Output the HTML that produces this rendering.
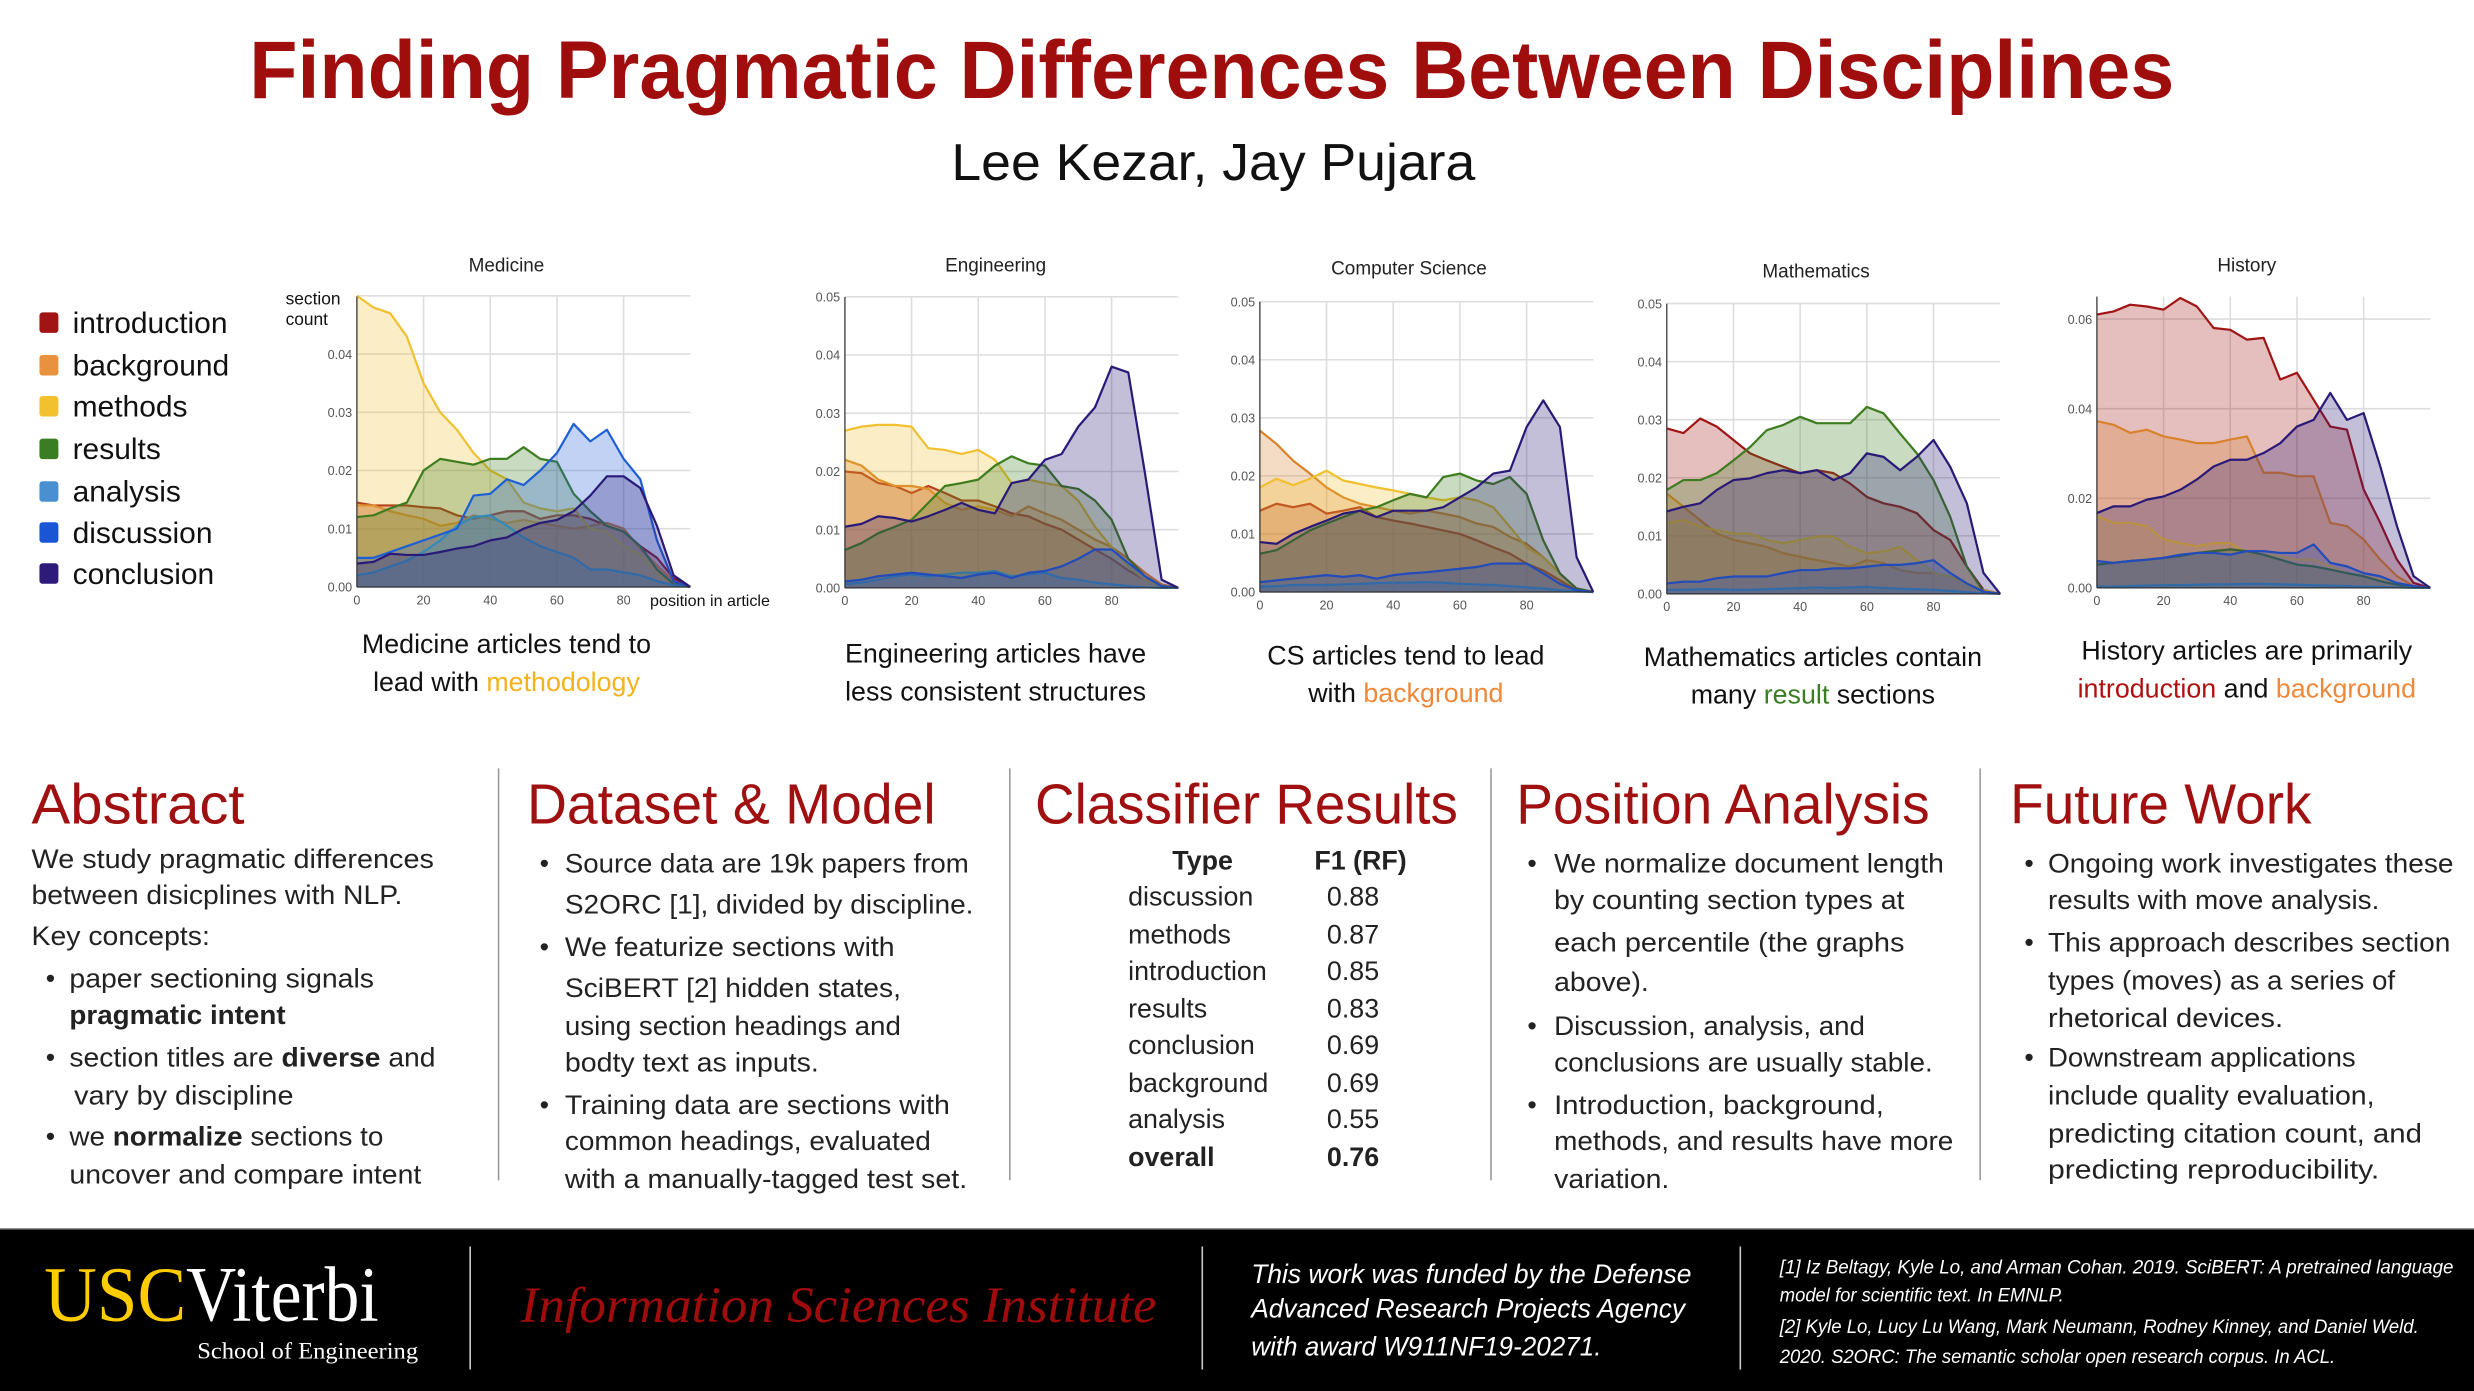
<!DOCTYPE html>
<html><head><meta charset="utf-8"><style>
html,body{margin:0;padding:0;background:#fff;}
svg{display:block;}
text{font-family:"Liberation Sans",sans-serif;}
.body{font-family:"Liberation Sans Narrow","Liberation Sans",sans-serif;font-size:17px;fill:#222;}
.hdr{font-size:36px;fill:#a01010;}
.tick{font-size:8px;fill:#555;font-family:"Liberation Sans Narrow","Liberation Sans",sans-serif;}
.cap{font-size:17px;fill:#111;}
.serif{font-family:"Liberation Serif",serif;}
.narrow{font-family:"Liberation Sans Narrow","Liberation Sans",sans-serif;}
</style></head><body>
<svg id="poster" width="2474" height="1391" viewBox="0 0 1568 881.6" xmlns="http://www.w3.org/2000/svg">
<rect x="0" y="0" width="1568" height="882" fill="#fff"/>
<text x="158" y="62" font-size="52" font-weight="bold" fill="#a00d0d" textLength="1220" lengthAdjust="spacingAndGlyphs">Finding Pragmatic Differences Between Disciplines</text>
<text x="603" y="114" font-size="33" fill="#111" textLength="332" lengthAdjust="spacingAndGlyphs">Lee Kezar, Jay Pujara</text>

<g id="legend">
<rect x="25" y="198" width="12" height="13" rx="2" fill="#a11414"/><text x="46" y="211" font-size="19" fill="#111">introduction</text>
<rect x="25" y="225" width="12" height="13" rx="2" fill="#e8923f"/><text x="46" y="238" font-size="19" fill="#111">background</text>
<rect x="25" y="251" width="12" height="13" rx="2" fill="#f2c12e"/><text x="46" y="264" font-size="19" fill="#111">methods</text>
<rect x="25" y="278" width="12" height="13" rx="2" fill="#3a7d22"/><text x="46" y="291" font-size="19" fill="#111">results</text>
<rect x="25" y="305" width="12" height="13" rx="2" fill="#4a8fd0"/><text x="46" y="318" font-size="19" fill="#111">analysis</text>
<rect x="25" y="331" width="12" height="13" rx="2" fill="#1a55d6"/><text x="46" y="344" font-size="19" fill="#111">discussion</text>
<rect x="25" y="357" width="12" height="13" rx="2" fill="#2e1a78"/><text x="46" y="370" font-size="19" fill="#111">conclusion</text>
</g>

<g id="charts"></g>

<text x="181" y="193" font-size="11" fill="#111">section</text>
<text x="181" y="206" font-size="11" fill="#111">count</text>
<text x="412" y="384" font-size="10" fill="#111" textLength="76" lengthAdjust="spacingAndGlyphs">position in article</text>

<!-- captions -->
<text class="cap" x="321" y="414" text-anchor="middle">Medicine articles tend to</text>
<text class="cap" x="321" y="438" text-anchor="middle">lead with <tspan fill="#f2b31c">methodology</tspan></text>
<text class="cap" x="631" y="420" text-anchor="middle">Engineering articles have</text>
<text class="cap" x="631" y="444" text-anchor="middle">less consistent structures</text>
<text class="cap" x="891" y="421" text-anchor="middle">CS articles tend  to lead</text>
<text class="cap" x="891" y="445" text-anchor="middle">with <tspan fill="#f0883a">background</tspan></text>
<text class="cap" x="1149" y="422" text-anchor="middle">Mathematics articles contain</text>
<text class="cap" x="1149" y="446" text-anchor="middle">many <tspan fill="#3a7d22">result</tspan> sections</text>
<text class="cap" x="1424" y="418" text-anchor="middle">History articles are primarily</text>
<text class="cap" x="1424" y="442" text-anchor="middle"><tspan fill="#b01010">introduction</tspan> and <tspan fill="#f0883a">background</tspan></text>

<!-- dividers -->
<line x1="316" y1="487" x2="316" y2="748" stroke="#999" stroke-width="1"/>
<line x1="640" y1="487" x2="640" y2="748" stroke="#999" stroke-width="1"/>
<line x1="945" y1="487" x2="945" y2="748" stroke="#999" stroke-width="1"/>
<line x1="1255" y1="487" x2="1255" y2="748" stroke="#999" stroke-width="1"/>

<!-- Abstract -->
<text class="hdr" x="20" y="522" textLength="135" lengthAdjust="spacingAndGlyphs">Abstract</text>
<g class="body">
<text class="body" x="20" y="550" textLength="255" lengthAdjust="spacingAndGlyphs">We study pragmatic differences</text>
<text class="body" x="20" y="573" textLength="235" lengthAdjust="spacingAndGlyphs">between disicplines with NLP.</text>
<text class="body" x="20" y="599" textLength="113" lengthAdjust="spacingAndGlyphs">Key concepts:</text>
<text class="body" x="29" y="626">•</text><text class="body" x="44" y="626" textLength="193" lengthAdjust="spacingAndGlyphs">paper sectioning signals</text>
<text class="body" x="44" y="649" font-weight="bold" textLength="137" lengthAdjust="spacingAndGlyphs">pragmatic intent</text>
<text class="body" x="29" y="676">•</text><text class="body" x="44" y="676" textLength="232" lengthAdjust="spacingAndGlyphs">section titles are <tspan font-weight="bold">diverse</tspan> and</text>
<text class="body" x="47" y="700" textLength="139" lengthAdjust="spacingAndGlyphs">vary by discipline</text>
<text class="body" x="29" y="726">•</text><text class="body" x="44" y="726" textLength="199" lengthAdjust="spacingAndGlyphs">we <tspan font-weight="bold">normalize</tspan> sections to</text>
<text class="body" x="44" y="750" textLength="223" lengthAdjust="spacingAndGlyphs">uncover and compare intent</text>
</g>

<!-- Dataset -->
<text class="hdr" x="334" y="522" textLength="259" lengthAdjust="spacingAndGlyphs">Dataset &amp; Model</text>
<g>
<text class="body" x="342" y="553">•</text><text class="body" x="358" y="553" textLength="256" lengthAdjust="spacingAndGlyphs">Source data are 19k papers from</text>
<text class="body" x="358" y="579" textLength="259" lengthAdjust="spacingAndGlyphs">S2ORC [1], divided by discipline.</text>
<text class="body" x="342" y="606">•</text><text class="body" x="358" y="606" textLength="209" lengthAdjust="spacingAndGlyphs">We featurize sections with</text>
<text class="body" x="358" y="632" textLength="213" lengthAdjust="spacingAndGlyphs">SciBERT [2] hidden states,</text>
<text class="body" x="358" y="656" textLength="213" lengthAdjust="spacingAndGlyphs">using section headings and</text>
<text class="body" x="358" y="679" textLength="161" lengthAdjust="spacingAndGlyphs">bodty text as inputs.</text>
<text class="body" x="342" y="706">•</text><text class="body" x="358" y="706" textLength="244" lengthAdjust="spacingAndGlyphs">Training data are sections with</text>
<text class="body" x="358" y="729" textLength="232" lengthAdjust="spacingAndGlyphs">common headings, evaluated</text>
<text class="body" x="358" y="753" textLength="255" lengthAdjust="spacingAndGlyphs">with a manually-tagged test set.</text>
</g>

<!-- Classifier -->
<text class="hdr" x="656" y="522" textLength="268" lengthAdjust="spacingAndGlyphs">Classifier Results</text>
<g>
<text class="body" x="743" y="551" font-weight="bold">Type</text><text class="body" x="833" y="551" font-weight="bold">F1 (RF)</text>
<text class="body" x="715" y="574">discussion</text><text class="body" x="841" y="574">0.88</text>
<text class="body" x="715" y="598">methods</text><text class="body" x="841" y="598">0.87</text>
<text class="body" x="715" y="621">introduction</text><text class="body" x="841" y="621">0.85</text>
<text class="body" x="715" y="645">results</text><text class="body" x="841" y="645">0.83</text>
<text class="body" x="715" y="668">conclusion</text><text class="body" x="841" y="668">0.69</text>
<text class="body" x="715" y="692">background</text><text class="body" x="841" y="692">0.69</text>
<text class="body" x="715" y="715">analysis</text><text class="body" x="841" y="715">0.55</text>
<text class="body" x="715" y="739" font-weight="bold">overall</text><text class="body" x="841" y="739" font-weight="bold">0.76</text>
</g>

<!-- Position -->
<text class="hdr" x="961" y="522" textLength="262" lengthAdjust="spacingAndGlyphs">Position Analysis</text>
<g>
<text class="body" x="968" y="553">•</text><text class="body" x="985" y="553" textLength="247" lengthAdjust="spacingAndGlyphs">We normalize document length</text>
<text class="body" x="985" y="576" textLength="222" lengthAdjust="spacingAndGlyphs">by counting section types at</text>
<text class="body" x="985" y="603" textLength="222" lengthAdjust="spacingAndGlyphs">each percentile (the graphs</text>
<text class="body" x="985" y="628" textLength="60" lengthAdjust="spacingAndGlyphs">above).</text>
<text class="body" x="968" y="656">•</text><text class="body" x="985" y="656" textLength="197" lengthAdjust="spacingAndGlyphs">Discussion, analysis, and</text>
<text class="body" x="985" y="679" textLength="240" lengthAdjust="spacingAndGlyphs">conclusions are usually stable.</text>
<text class="body" x="968" y="706">•</text><text class="body" x="985" y="706" textLength="209" lengthAdjust="spacingAndGlyphs">Introduction, background,</text>
<text class="body" x="985" y="729" textLength="253" lengthAdjust="spacingAndGlyphs">methods, and results have more</text>
<text class="body" x="985" y="753" textLength="73" lengthAdjust="spacingAndGlyphs">variation.</text>
</g>

<!-- Future -->
<text class="hdr" x="1274" y="522" textLength="191" lengthAdjust="spacingAndGlyphs">Future Work</text>
<g>
<text class="body" x="1283" y="553">•</text><text class="body" x="1298" y="553" textLength="257" lengthAdjust="spacingAndGlyphs">Ongoing work investigates these</text>
<text class="body" x="1298" y="576" textLength="210" lengthAdjust="spacingAndGlyphs">results with move analysis.</text>
<text class="body" x="1283" y="603">•</text><text class="body" x="1298" y="603" textLength="255" lengthAdjust="spacingAndGlyphs">This approach describes section</text>
<text class="body" x="1298" y="627" textLength="220" lengthAdjust="spacingAndGlyphs">types (moves) as a series of</text>
<text class="body" x="1298" y="651" textLength="149" lengthAdjust="spacingAndGlyphs">rhetorical devices.</text>
<text class="body" x="1283" y="676">•</text><text class="body" x="1298" y="676" textLength="195" lengthAdjust="spacingAndGlyphs">Downstream applications</text>
<text class="body" x="1298" y="700" textLength="207" lengthAdjust="spacingAndGlyphs">include quality evaluation,</text>
<text class="body" x="1298" y="724" textLength="237" lengthAdjust="spacingAndGlyphs">predicting citation count, and</text>
<text class="body" x="1298" y="747" textLength="210" lengthAdjust="spacingAndGlyphs">predicting reproducibility.</text>
</g>

<!-- Footer -->
<rect x="0" y="779" width="1568" height="103" fill="#000"/>
<line x1="0" y1="779" x2="1568" y2="779" stroke="#555" stroke-width="1"/>
<text class="serif" x="28" y="837" font-size="50" fill="#ffcc00" textLength="90" lengthAdjust="spacingAndGlyphs">USC</text>
<text class="serif" x="118" y="837" font-size="50" fill="#fff" textLength="122" lengthAdjust="spacingAndGlyphs">Viterbi</text>
<text class="serif" x="125" y="861" font-size="15" fill="#fff" textLength="140" lengthAdjust="spacingAndGlyphs">School of Engineering</text>
<line x1="298" y1="790" x2="298" y2="868" stroke="#ccc" stroke-width="1"/>
<text class="serif" x="330" y="838" font-style="italic" font-size="32" fill="#a00c0c" textLength="403" lengthAdjust="spacingAndGlyphs">Information Sciences Institute</text>
<line x1="762" y1="790" x2="762" y2="868" stroke="#ccc" stroke-width="1"/>
<g font-style="italic" font-size="17" fill="#fff">
<text class="narrow" x="793" y="813" textLength="279" lengthAdjust="spacingAndGlyphs">This work was funded by the Defense</text>
<text class="narrow" x="793" y="835" textLength="275" lengthAdjust="spacingAndGlyphs">Advanced Research Projects Agency</text>
<text class="narrow" x="793" y="859" textLength="222" lengthAdjust="spacingAndGlyphs">with award W911NF19-20271.</text>
</g>
<line x1="1103" y1="790" x2="1103" y2="868" stroke="#ccc" stroke-width="1"/>
<g font-style="italic" font-size="12" fill="#fff">
<text class="narrow" x="1128" y="807" textLength="427" lengthAdjust="spacingAndGlyphs">[1] Iz Beltagy, Kyle Lo, and Arman Cohan. 2019. SciBERT: A pretrained language</text>
<text class="narrow" x="1128" y="825" textLength="180" lengthAdjust="spacingAndGlyphs">model for scientific text. In EMNLP.</text>
<text class="narrow" x="1128" y="845" textLength="405" lengthAdjust="spacingAndGlyphs">[2] Kyle Lo, Lucy Lu Wang, Mark Neumann, Rodney Kinney, and Daniel Weld.</text>
<text class="narrow" x="1128" y="864" textLength="352" lengthAdjust="spacingAndGlyphs">2020. S2ORC: The semantic scholar open research corpus. In ACL.</text>
</g>
</svg>
<script>
// ---- data ----
const categories = ["introduction","background","methods","results","analysis","discussion","conclusion"];
const positions = [0,5,10,15,20,25,30,35,40,45,50,55,60,65,70,75,80,85,90,95,100];
const xTicks = [0,20,40,60,80];
const chartTitles = ["Medicine","Engineering","Computer Science","Mathematics","History"];
const yTicksDefault = [0,0.01,0.02,0.03,0.04,0.05];
const yTicksMedicine = [0,0.01,0.02,0.03,0.04];
const yTicksHistory = [0,0.02,0.04,0.06];

const medIntro = [0.0145,0.014,0.014,0.014,0.0137,0.0135,0.0123,0.0117,0.0123,0.013,0.013,0.0117,0.0123,0.0123,0.0117,0.0105,0.0095,0.007,0.005,0.0015,0];
const medBack = [0.014,0.014,0.013,0.0123,0.0117,0.0105,0.011,0.0123,0.0117,0.011,0.0115,0.011,0.0105,0.010,0.0105,0.011,0.010,0.0066,0.0037,0.001,0];
const medMeth = [0.05,0.048,0.047,0.043,0.035,0.030,0.027,0.023,0.020,0.0185,0.0145,0.0135,0.013,0.0135,0.010,0.0095,0.007,0.0055,0.0025,0.0003,0];
const medRes = [0.012,0.0123,0.0135,0.0145,0.020,0.022,0.0215,0.021,0.022,0.022,0.024,0.022,0.0215,0.016,0.013,0.0105,0.0095,0.007,0.003,0.0005,0];
const medAna = [0.002,0.0025,0.0035,0.0045,0.006,0.008,0.0105,0.012,0.0123,0.0105,0.0085,0.007,0.006,0.005,0.003,0.003,0.0025,0.002,0.001,0.0003,0];
const medDisc = [0.005,0.005,0.006,0.007,0.008,0.009,0.010,0.0157,0.016,0.0185,0.0175,0.020,0.023,0.028,0.025,0.027,0.022,0.0185,0.008,0.001,0];
const medConc = [0.004,0.0043,0.0057,0.0055,0.0055,0.006,0.0066,0.007,0.008,0.0085,0.010,0.011,0.0115,0.013,0.0157,0.019,0.019,0.017,0.0105,0.002,0];

const engIntro = [0.020,0.0197,0.018,0.0175,0.0163,0.0175,0.0163,0.015,0.015,0.014,0.0128,0.0123,0.011,0.010,0.0083,0.0066,0.005,0.003,0.0014,0.0003,0];
const engBack = [0.022,0.021,0.0186,0.0175,0.0175,0.017,0.0146,0.0134,0.014,0.0134,0.0123,0.014,0.0128,0.0117,0.010,0.0083,0.007,0.005,0.0026,0.0006,0];
const engMeth = [0.027,0.0277,0.028,0.028,0.0277,0.024,0.0237,0.023,0.0237,0.022,0.018,0.0186,0.018,0.0175,0.015,0.0105,0.007,0.0037,0.0014,0.0003,0];
const engRes = [0.0065,0.0077,0.0094,0.0105,0.0117,0.0146,0.0175,0.018,0.0186,0.021,0.0226,0.0214,0.021,0.0175,0.017,0.015,0.0117,0.005,0.002,0.0003,0];
const engAna = [0.0006,0.0009,0.0014,0.002,0.0023,0.002,0.0023,0.0026,0.0026,0.0029,0.002,0.0023,0.0026,0.0017,0.0014,0.0009,0.0006,0.0003,0.0001,0,0];
const engDisc = [0.0011,0.0014,0.002,0.0023,0.0026,0.0023,0.002,0.0017,0.0023,0.0026,0.0017,0.0026,0.0029,0.0037,0.005,0.0066,0.0066,0.0043,0.002,0.0003,0];
const engConc = [0.0105,0.011,0.0123,0.012,0.0114,0.0123,0.0134,0.0146,0.0134,0.0128,0.018,0.0186,0.022,0.023,0.0277,0.031,0.038,0.037,0.0197,0.0014,0];

const csIntro = [0.014,0.0152,0.0146,0.0152,0.0135,0.014,0.0146,0.0129,0.0123,0.0118,0.0112,0.0106,0.010,0.0089,0.0077,0.0066,0.0049,0.0037,0.002,0.0003,0];
const csBack = [0.0278,0.0255,0.0226,0.0204,0.018,0.0163,0.0152,0.0146,0.014,0.0135,0.014,0.0135,0.0129,0.0118,0.0112,0.0095,0.0083,0.006,0.0032,0.0006,0];
const csMeth = [0.018,0.0195,0.0184,0.0195,0.0209,0.0192,0.0186,0.018,0.0175,0.0169,0.0163,0.0158,0.0163,0.0158,0.0146,0.0112,0.0077,0.006,0.0032,0.0006,0];
const csRes = [0.0066,0.0072,0.0089,0.0106,0.0118,0.0129,0.014,0.0146,0.0158,0.0169,0.0163,0.0198,0.0204,0.0192,0.0186,0.0198,0.0169,0.0089,0.0032,0.0006,0];
const csAna = [0.0009,0.001,0.0012,0.0012,0.0012,0.0013,0.0014,0.0015,0.0016,0.0016,0.0017,0.0016,0.0014,0.0013,0.0012,0.001,0.0008,0.0006,0.0003,0.0001,0];
const csDisc = [0.0017,0.002,0.0023,0.0026,0.0029,0.0026,0.0029,0.0023,0.0029,0.0032,0.0034,0.0037,0.004,0.0043,0.0049,0.0049,0.0049,0.0032,0.0014,0.0003,0];
const csConc = [0.0086,0.0083,0.010,0.0112,0.0123,0.0135,0.014,0.0129,0.014,0.014,0.014,0.0146,0.0163,0.018,0.0204,0.0209,0.0284,0.033,0.0284,0.006,0];

const mathIntro = [0.0285,0.0277,0.0302,0.0288,0.0265,0.0242,0.023,0.0219,0.0208,0.0213,0.0208,0.019,0.0167,0.0156,0.015,0.0139,0.011,0.0093,0.0047,0.0007,0];
const mathBack = [0.0173,0.015,0.0127,0.0104,0.0093,0.0087,0.0081,0.007,0.0064,0.0058,0.0053,0.0047,0.0058,0.0053,0.0041,0.0036,0.0036,0.003,0.0018,0.0004,0];
const mathMeth = [0.0122,0.0127,0.0116,0.011,0.0104,0.0104,0.0093,0.0087,0.0093,0.0099,0.0099,0.0081,0.007,0.0073,0.0081,0.0058,0.0036,0.003,0.0018,0.0007,0];
const mathRes = [0.0179,0.0196,0.0196,0.0208,0.023,0.0253,0.0282,0.0291,0.0305,0.0294,0.0294,0.0294,0.0322,0.0311,0.0276,0.0242,0.0196,0.0133,0.0047,0.0004,0];
const mathAna = [0.0007,0.0007,0.0008,0.0008,0.0007,0.0007,0.0008,0.0009,0.001,0.0011,0.001,0.0011,0.0012,0.001,0.0009,0.0008,0.0007,0.0005,0.0003,0.0001,0];
const mathDisc = [0.0018,0.0021,0.0021,0.0027,0.003,0.003,0.003,0.0036,0.0041,0.0041,0.0044,0.0044,0.0047,0.005,0.005,0.0053,0.0058,0.0036,0.0018,0.0004,0];
const mathConc = [0.0142,0.015,0.0156,0.0179,0.0196,0.0199,0.0208,0.0213,0.0208,0.0213,0.0196,0.0208,0.0242,0.0236,0.0213,0.0236,0.0265,0.0219,0.0156,0.0036,0];

const histIntro = [0.061,0.0617,0.0632,0.0628,0.0621,0.0647,0.0628,0.058,0.0576,0.0554,0.0558,0.0465,0.048,0.042,0.036,0.0353,0.022,0.0145,0.0063,0.0011,0];
const histBack = [0.0372,0.0364,0.0346,0.0353,0.0338,0.0331,0.0323,0.0323,0.0331,0.0338,0.0257,0.0257,0.0249,0.0249,0.0145,0.0138,0.0108,0.0063,0.0026,0.0004,0];
const histMeth = [0.016,0.0145,0.0145,0.0138,0.0108,0.010,0.0093,0.010,0.010,0.0078,0.0074,0.0071,0.0063,0.0063,0.0048,0.0033,0.0026,0.0019,0.0007,0.0001,0];
const histRes = [0.0052,0.0056,0.006,0.0063,0.0067,0.0071,0.0078,0.0082,0.0086,0.0082,0.0074,0.0063,0.0052,0.0048,0.0041,0.0033,0.0026,0.0015,0.0007,0.0001,0];
const histAna = [0.0003,0.0003,0.0004,0.0005,0.0006,0.0006,0.0007,0.0008,0.0008,0.0009,0.0009,0.0008,0.0007,0.0006,0.0005,0.0004,0.0003,0.0002,0.0001,0,0];
const histDisc = [0.006,0.0056,0.006,0.0063,0.0067,0.0074,0.0078,0.0078,0.0074,0.0082,0.0082,0.0078,0.0078,0.0097,0.0056,0.0048,0.0033,0.0026,0.0011,0.0004,0];
const histConc = [0.0167,0.0182,0.0182,0.0197,0.0204,0.0219,0.0242,0.0271,0.0286,0.0286,0.0301,0.0323,0.036,0.0375,0.0435,0.0375,0.039,0.0271,0.0138,0.0026,0];

// ---- styling / layout (not data) ----
const colors = ["#a11414","#d9822b","#f0c030","#3d7d1f","#3a9bb0","#1f5fd6","#2a1a78"];
const NS = "http://www.w3.org/2000/svg";
const chartLayouts = [
  {x0:226.2,y0:372,top:188,yMax:0.05,unitY:3690,titleX:321,titleY:172,ticks:yTicksMedicine,series:[medIntro,medBack,medMeth,medRes,medAna,medDisc,medConc]},
  {x0:535.5,y0:372.6,top:188.2,yMax:0.05,unitY:3690,titleX:631,titleY:172,ticks:yTicksDefault,series:[engIntro,engBack,engMeth,engRes,engAna,engDisc,engConc]},
  {x0:798.5,y0:375.2,top:191.2,yMax:0.05,unitY:3680,titleX:893,titleY:174,ticks:yTicksDefault,series:[csIntro,csBack,csMeth,csRes,csAna,csDisc,csConc]},
  {x0:1056.4,y0:376.4,top:192.4,yMax:0.05,unitY:3680,titleX:1151,titleY:176,ticks:yTicksDefault,series:[mathIntro,mathBack,mathMeth,mathRes,mathAna,mathDisc,mathConc]},
  {x0:1329,y0:372.6,top:188,yMax:0.065,unitY:2840,titleX:1424,titleY:172,ticks:yTicksHistory,series:[histIntro,histBack,histMeth,histRes,histAna,histDisc,histConc]}
];
const unitX = 2.113;
const root = document.getElementById("charts");

function el(tag, attrs){ const e=document.createElementNS(NS,tag); for(const k in attrs) e.setAttribute(k,attrs[k]); return e; }

chartLayouts.forEach((L, ci) => {
  const g = el("g",{});
  
  
  root.appendChild(g);
  const sx = v => L.x0 + v*unitX;
  const sy = v => L.y0 - v*L.unitY;
  const right = sx(100);
  const t = el("text",{x:L.titleX,y:L.titleY,"font-size":12,fill:"#222","text-anchor":"middle"});
  
  
  t.textContent = chartTitles[ci];
  g.appendChild(t);
  L.ticks.forEach(v => {
    const ln = el("line",{x1:L.x0,x2:right,y1:sy(v),y2:sy(v),stroke:"#ddd","stroke-width":1});
    
    
    g.appendChild(ln);
    const lb = el("text",{x:L.x0-3,y:sy(v)+3,class:"tick","text-anchor":"end"});
    
    
    lb.textContent = v.toFixed(2);
    g.appendChild(lb);
  });
  if (L.yMax === 0.05 && L.ticks.length === 5) {
    const ln = el("line",{x1:L.x0,x2:right,y1:sy(0.05),y2:sy(0.05),stroke:"#ddd","stroke-width":1});
    
    
    g.appendChild(ln);
  }
  xTicks.forEach(v => {
    if (v>0) {
      const ln = el("line",{x1:sx(v),x2:sx(v),y1:L.y0,y2:L.top,stroke:"#ddd","stroke-width":1});
      
      
      g.appendChild(ln);
    }
    const lb = el("text",{x:sx(v),y:L.y0+11,class:"tick","text-anchor":"middle"});
    
    
    lb.textContent = v;
    g.appendChild(lb);
  });
  L.series.forEach((vals, si) => {
    let d = "";
    vals.forEach((v,i) => { d += (i?"L":"M") + sx(positions[i]).toFixed(2) + "," + sy(v).toFixed(2); });
    const area = el("path",{d: d + "L"+sx(positions[positions.length-1]).toFixed(2)+","+L.y0+"L"+L.x0+","+L.y0+"Z", fill:colors[si], "fill-opacity":0.28, stroke:"none"});
    
    
    g.appendChild(area);
    const line = el("path",{d:d, fill:"none", stroke:colors[si], "stroke-width":1.4, "stroke-linejoin":"round"});
    
    
    g.appendChild(line);
  });
  const ax = el("line",{x1:L.x0,x2:L.x0,y1:L.y0,y2:L.top,stroke:"#333","stroke-width":0.8});
  
  
  g.appendChild(ax);
  const bx = el("line",{x1:L.x0,x2:right,y1:L.y0,y2:L.y0,stroke:"#333","stroke-width":0.8});
  
  
  g.appendChild(bx);
});
</script>
</body></html>
